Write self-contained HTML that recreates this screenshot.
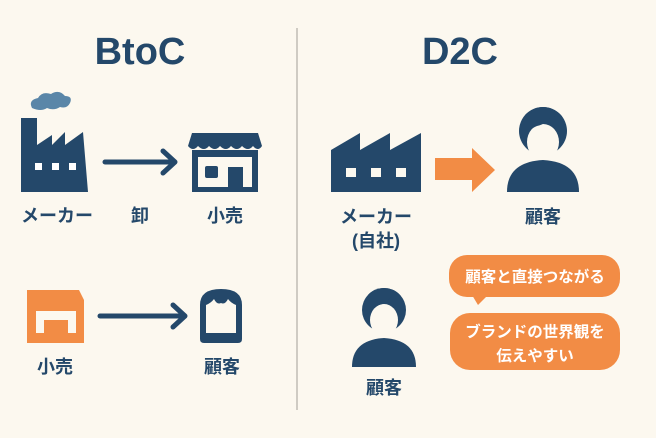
<!DOCTYPE html>
<html><head><meta charset="utf-8"><style>
html,body{margin:0;padding:0;background:#fcf8ef;}
svg{display:block}
text{font-family:"Liberation Sans","Noto Sans CJK JP",sans-serif;font-weight:bold;}
</style></head><body>
<svg width="656" height="438" viewBox="0 0 656 438" xmlns="http://www.w3.org/2000/svg">
<defs>
<clipPath id="c1"><circle cx="543" cy="131" r="24"/></clipPath>
<clipPath id="c2"><circle cx="384" cy="310" r="22"/></clipPath>
</defs>
<rect width="656" height="438" fill="#fcf8ef"/>
<line x1="297" y1="28" x2="297" y2="410" stroke="#cfcbc3" stroke-width="2"/>
<g fill="#24486a" text-anchor="middle">
<text x="140" y="64" font-size="38">BtoC</text>
<text x="460" y="64" font-size="38">D2C</text>
</g>
<path d="M32 108 q-4 -8 6 -10 q4 -7 13 -4 q8 -5 14 2 q8 0 5 7 q-3 6 -10 4 q-6 4 -13 1 q-6 4 -15 0z" fill="#5a86a8"/>
<path d="M21 192 V118 H37 V145 L52 135 V145 L65 132 V145 L83 132 L88 192Z" fill="#24486a"/>
<g fill="#fff"><rect x="35" y="163" width="7" height="7"/><rect x="52" y="163" width="7" height="7"/><rect x="69" y="163" width="7" height="7"/></g>
<g stroke="#24486a" stroke-width="5" stroke-linecap="round" fill="none" stroke-linejoin="round">
<line x1="105" y1="162" x2="173" y2="162"/><polyline points="163,151 175,162 163,173"/>
<line x1="100" y1="316" x2="183" y2="316"/><polyline points="173,305 185,316 173,327"/>
</g>
<path d="M192 133 H258 L262 146 q-4 6 -9 0 q-5 6 -11 0 q-5 6 -11 0 q-5 6 -11 0 q-5 6 -11 0 q-5 6 -11 0 q-5 6 -10 0Z" fill="#24486a"/>
<path d="M192 150 H258 V192 H192Z M198 157 V187 H228 V167 H243 V187 H252 V157Z" fill="#24486a" fill-rule="evenodd"/>
<rect x="205" y="166" width="13" height="12" rx="2" fill="#24486a"/>
<path d="M27 290 H79 L84 300 V343 H27Z M36 333 V311 H76 V333 H68 V320 H44 V333Z" fill="#f28c45" fill-rule="evenodd"/>
<path d="M200 339 V305 q0 -16 21 -16 q21 0 21 16 V339 q0 4 -4 4 H204 q-4 0 -4 -4Z M206 333 H236 V305 q-5 -2 -8 -6 q-3 6 -7 4 q-4 2 -7 -4 q-3 4 -8 6Z" fill="#24486a" fill-rule="evenodd"/>
<path d="M331 192 V150 L360 133 V150 L390 133 V150 L421 133 V192Z" fill="#24486a"/>
<g fill="#fcf8ef"><rect x="346" y="168" width="10" height="9"/><rect x="371" y="168" width="10" height="9"/><rect x="396" y="168" width="10" height="9"/></g>
<path d="M435 158 H472 V148 L495 170 L472 192 V180 H435Z" fill="#f28c45"/>
<!-- person 1 -->
<path d="M507 192 q0 -30 36 -32 q36 2 36 32Z" fill="#24486a"/>
<circle cx="543" cy="131" r="24" fill="#24486a"/>
<ellipse cx="543" cy="142" rx="16" ry="18" fill="#fcf8ef"/>
<path d="M525 136 q6 -8 12 -10 q10 -2 16 -12 q6 10 9 22 V100 H525Z" fill="#24486a" clip-path="url(#c1)"/>
<!-- person 2 -->
<path d="M352 367 q0 -27 32 -29 q32 2 32 29Z" fill="#24486a"/>
<circle cx="384" cy="310" r="22" fill="#24486a"/>
<ellipse cx="384" cy="320" rx="14" ry="16" fill="#fcf8ef"/>
<path d="M368 314 q6 -7 11 -9 q9 -2 14 -11 q6 9 8 20 V280 H368Z" fill="#24486a" clip-path="url(#c2)"/>
<rect x="449" y="255" width="171" height="42" rx="18" fill="#f28c45"/>
<path d="M472 295 L478 305 L488 295Z" fill="#f28c45"/>
<rect x="450" y="313" width="170" height="57" rx="20" fill="#f28c45"/>
<g fill="#fff" font-size="15.5" text-anchor="middle">
<text x="535" y="282">顧客と直接つながる</text>
<text x="535" y="337">ブランドの世界観を</text>
<text x="535" y="361">伝えやすい</text>
</g>
<g fill="#24486a" font-size="18" text-anchor="middle">
<text x="57" y="222">メーカー</text>
<text x="140" y="222">卸</text>
<text x="225" y="222">小売</text>
<text x="55" y="373">小売</text>
<text x="222" y="373">顧客</text>
<text x="376" y="223">メーカー</text>
<text x="376" y="247">(自社)</text>
<text x="543" y="223">顧客</text>
<text x="384" y="394">顧客</text>
</g>
</svg>
</body></html>
